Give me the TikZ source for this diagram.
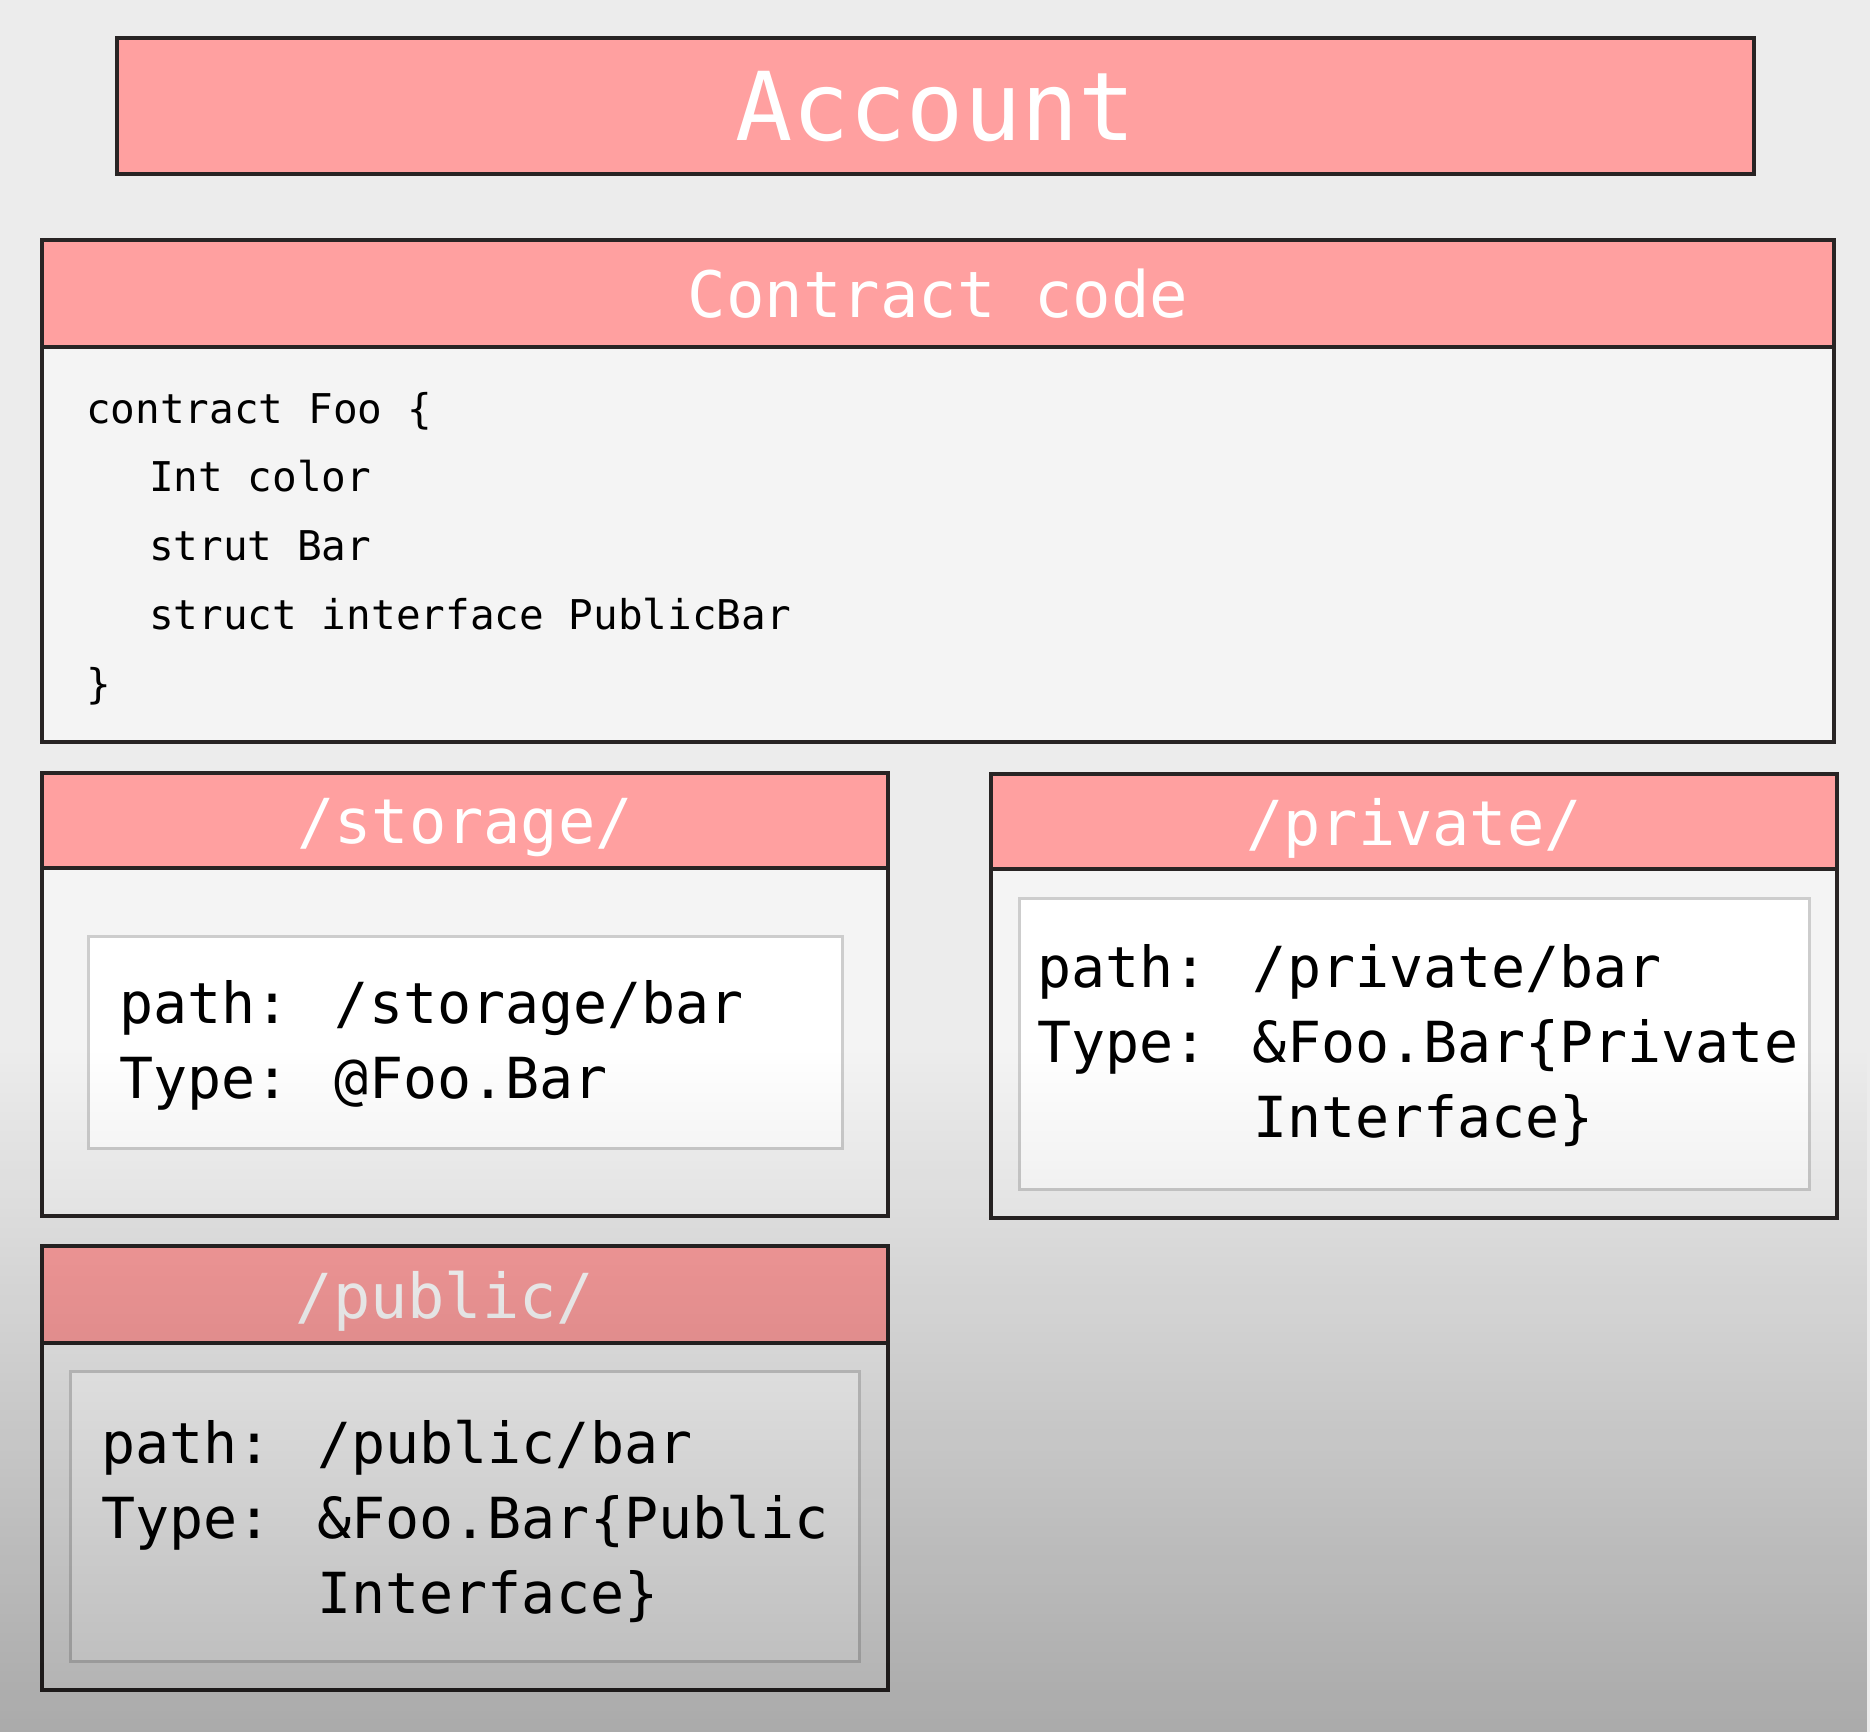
\documentclass[tikz,border=0pt]{standalone}
\usepackage{fontspec}
\usepackage{tikz}
\usetikzlibrary{positioning, fadings}

\newfontfamily\slidefont{DejaVu Sans Mono}
\definecolor{bgcol}{RGB}{236,236,236}
\definecolor{hdrpink}{RGB}{255,160,160}
\definecolor{edgecol}{RGB}{40,36,36}
\definecolor{bodygray}{RGB}{244,244,244}
\definecolor{innerline}{RGB}{205,205,205}

\begin{document}
\begin{tikzpicture}[x=1pt, y=-1pt]
    \tikzstyle{hdrbar} = [rectangle, draw=edgecol, line width=4pt, fill=hdrpink, text=white, outer sep=0pt, text depth=0pt, font={\slidefont\fontsize{62}{70}\selectfont}]
    \tikzstyle{bodybox} = [rectangle, draw=edgecol, line width=4pt, fill=bodygray, outer sep=0pt]
    \tikzstyle{innerbox} = [rectangle, draw=innerline, line width=3pt, fill=white, outer sep=0pt]
    \tikzstyle{pathtext} = [inner sep=0pt, align=left, anchor=west, font={\slidefont\fontsize{56.6}{75}\selectfont}]
    \tikzstyle{codetext} = [inner sep=0pt, align=left, anchor=west, font={\slidefont\fontsize{41}{68.8}\selectfont}]

    \useasboundingbox (0,0) rectangle (1870,1732);
    \fill[bgcol] (0,0) rectangle (1870,1732);

    % title bar
    \node (account) [hdrbar, minimum width=1637pt, minimum height=136pt, font={\slidefont\fontsize{95}{100}\selectfont}] at (935.5,106) {Account};

    % contract code panel
    \node (codehdr) [hdrbar, minimum width=1792pt, minimum height=107pt, font={\slidefont\fontsize{64}{70}\selectfont}] at (938,293.5) {Contract code};
    \node (codebody) [bodybox, below=0pt of codehdr, minimum width=1792pt, minimum height=395pt] {};
    \node (code) [codetext] at ([xshift=44pt, yshift=-4pt]codebody.west) {contract Foo \{\\
        \hspace*{63pt}Int color\\
        \hspace*{63pt}strut Bar\\
        \hspace*{63pt}struct interface PublicBar\\
        \}};

    % storage panel
    \node (storehdr) [hdrbar, minimum width=846pt, minimum height=95pt] at (465,820.5) {/storage/};
    \node (storebody) [bodybox, below=0pt of storehdr, minimum width=846pt, minimum height=348pt] {};
    \node (storeinner) [innerbox, minimum width=754pt, minimum height=212pt] at (storebody.center) {};
    \node (storetext) [pathtext] at ([xshift=31pt, yshift=-3pt]storeinner.west) {path: /storage/bar\\Type: @Foo.Bar};

    % private panel
    \node (privhdr) [hdrbar, minimum width=846pt, minimum height=95pt] at (1414,821.5) {/private/};
    \node (privbody) [bodybox, below=0pt of privhdr, minimum width=846pt, minimum height=349pt] {};
    \node (privinner) [innerbox, minimum width=790pt, minimum height=291pt] at (privbody.center) {};
    \node (privtext) [pathtext] at ([xshift=18pt, yshift=-3pt]privinner.west) {path: /private/bar\\Type: \&Foo.Bar\{Private\\\phantom{Type: }Interface\}};

    % public panel
    \node (pubhdr) [hdrbar, minimum width=846pt, minimum height=97pt] at (465,1294.5) {/public/\hspace*{40pt}};
    \node (pubbody) [bodybox, below=0pt of pubhdr, minimum width=846pt, minimum height=347pt] {};
    \node (pubinner) [innerbox, minimum width=789pt, minimum height=290pt] at (pubbody.center) {};
    \node (pubtext) [pathtext] at ([xshift=31pt, yshift=-6pt]pubinner.west) {path: /public/bar\\Type: \&Foo.Bar\{Public\\\phantom{Type: }Interface\}};

    % darker towards the bottom
    \fill[black, opacity=0.28, path fading=north] (0,1050) rectangle (1870,1732);
\end{tikzpicture}
\end{document}
